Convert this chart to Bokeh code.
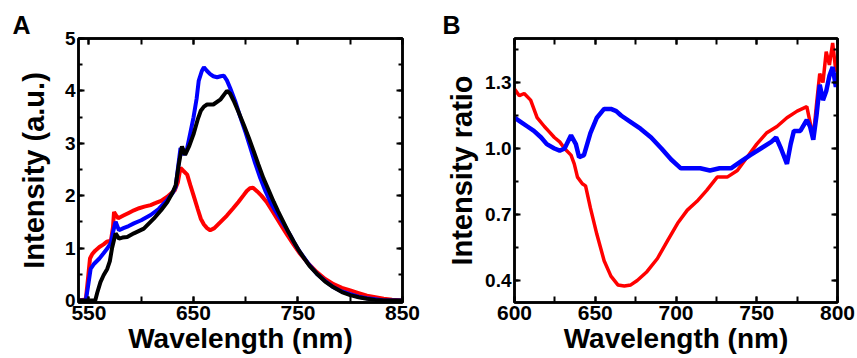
from bokeh.plotting import figure
from bokeh.layouts import row
from bokeh.models import FixedTicker, LinearAxis, Range1d, PrintfTickFormatter
from bokeh.embed import file_html
from bokeh.resources import INLINE

# ---------------- Panel A data: emission spectra ----------------
a_red_x = [540, 547, 549, 551, 553, 556, 560, 564, 567, 571, 573, 574, 576, 578, 583, 588, 593, 598, 603, 609,
           614, 619, 625, 629, 632, 635, 637.6, 640, 644, 647, 650, 654, 657, 660, 663, 666, 670, 676, 682, 688,
           693, 698, 701, 704, 707, 711, 715, 720, 725, 730, 735, 740, 746, 752, 760, 768, 776, 784, 792, 800,
           808, 816, 824, 832, 840, 849]
a_red_y = [0, 0.02, 0.4, 0.8, 0.88, 0.95, 1.02, 1.07, 1.12, 1.14, 1.4, 1.69, 1.62, 1.57, 1.62, 1.67, 1.72, 1.76, 1.79, 1.82,
           1.86, 1.9, 1.98, 2.05, 2.1, 2.25, 2.53, 2.48, 2.40, 2.2, 2.01, 1.75, 1.56, 1.45, 1.38, 1.34, 1.38, 1.5, 1.62, 1.76,
           1.88, 2.01, 2.09, 2.14, 2.15, 2.08, 2.0, 1.88, 1.72, 1.56, 1.40, 1.24, 1.06, 0.89, 0.70, 0.54, 0.41, 0.31, 0.24, 0.19,
           0.14, 0.09, 0.06, 0.03, 0.015, 0.0]

a_blue_x = [540, 547, 549, 551.6, 555, 560, 564, 567.5, 571, 573, 575.5, 578.7, 583, 588, 593, 600, 609, 617, 625, 630,
            633, 635, 637.6, 641, 644, 647, 650, 653, 655, 658, 660, 663, 666, 669, 672.6, 676, 679, 682, 685, 690,
            695, 700, 704.5, 709, 714, 719, 723.6, 728, 733, 738, 742.7, 747, 752, 760, 768, 776, 784, 792, 800, 808,
            816, 824, 832, 849]
a_blue_y = [0, 0, 0.25, 0.6, 0.7, 0.8, 0.9, 0.99, 1.1, 1.3, 1.5, 1.34, 1.38, 1.42, 1.47, 1.53, 1.63, 1.75, 1.92, 2.05,
            2.17, 2.5, 2.91, 2.78, 2.91, 3.2, 3.49, 3.85, 4.19, 4.38, 4.45, 4.38, 4.32, 4.28, 4.26, 4.28, 4.29, 4.2, 4.06, 3.8,
            3.49, 3.2, 2.91, 2.62, 2.33, 2.08, 1.88, 1.72, 1.56, 1.40, 1.24, 1.08, 0.92, 0.70, 0.51, 0.37, 0.25, 0.17, 0.12, 0.07,
            0.04, 0.02, 0.0, 0.0]

a_black_x = [540, 556, 558, 561, 564, 567.5, 570, 572, 575.5, 578.7, 582, 586.6, 593, 602.5, 612, 619, 625, 630, 633, 636,
             639, 642, 646, 650, 654, 657, 660, 663, 669, 676, 682, 685, 688.5, 693, 698, 703, 707.6, 712, 717, 722,
             726.8, 731, 736, 741, 746, 750, 755, 761, 768, 776, 784, 792, 800, 808, 816, 824, 832, 849]
a_black_y = [0, 0, 0.15, 0.35, 0.48, 0.6, 0.75, 0.99, 1.28, 1.18, 1.2, 1.21, 1.28, 1.37, 1.56, 1.72, 1.88, 2.06, 2.2, 2.6,
             2.94, 2.78, 2.95, 3.17, 3.45, 3.62, 3.7, 3.74, 3.74, 3.84, 4.0, 3.95, 3.81, 3.6, 3.36, 3.1, 2.85, 2.6, 2.33, 2.1,
             1.88, 1.7, 1.5, 1.3, 1.12, 0.98, 0.83, 0.66, 0.51, 0.36, 0.25, 0.16, 0.10, 0.06, 0.03, 0.01, 0.0, 0.0]

a_x_labels = [550, 650, 750, 850]
a_x_minor = [550, 600, 650, 700, 750, 800, 850]
a_y_labels = [0, 1, 2, 3, 4, 5]
a_y_minor = [0, 0.5, 1, 1.5, 2, 2.5, 3, 3.5, 4, 4.5, 5]

# ---------------- Panel B data: intensity ratios ----------------
b_red_x = [600, 603, 606, 610, 614, 618.5, 621, 624.7, 628, 631, 635, 637, 639, 642, 644, 647, 651, 655.5, 659.7, 664,
           668, 672, 676, 682, 688.5, 694.7, 701, 707, 713, 719, 725.5, 731.7, 738, 744, 750, 756, 762.5, 768.7, 775, 781,
           783, 785, 787, 789, 791, 793, 795, 797, 799, 800]
b_red_y = [1.27, 1.24, 1.25, 1.22, 1.14, 1.1, 1.08, 1.05, 1.03, 1.0, 0.97, 0.93, 0.87, 0.84, 0.83, 0.73, 0.61, 0.49, 0.42, 0.38,
           0.375, 0.38, 0.40, 0.44, 0.50, 0.58, 0.66, 0.72, 0.76, 0.81, 0.87, 0.87, 0.90, 0.96, 1.02, 1.07, 1.10, 1.14, 1.17, 1.19,
           1.12, 1.05, 1.2, 1.34, 1.30, 1.44, 1.38, 1.48, 1.35, 1.37]

b_blue_x = [600, 604, 608, 612, 616.5, 620, 624.7, 628, 631, 635, 638, 640, 643, 647, 651, 655.5, 659.7, 663, 666, 672,
            678, 684.6, 691, 697, 703, 709, 715, 721, 727, 734, 740, 746, 752.5, 759, 762, 765, 768.7, 771, 773, 777,
            781, 783, 785, 787, 789, 791, 793, 795, 797, 799, 800]
b_blue_y = [1.14, 1.12, 1.1, 1.08, 1.05, 1.02, 1.0, 0.99, 1.0, 1.06, 1.02, 0.96, 0.97, 1.07, 1.14, 1.18, 1.18, 1.17, 1.15, 1.12,
            1.09, 1.05, 1.0, 0.95, 0.91, 0.91, 0.91, 0.90, 0.91, 0.91, 0.94, 0.97, 1.0, 1.03, 1.05, 1.0, 0.93, 1.02, 1.08, 1.08,
            1.13, 1.1, 1.04, 1.15, 1.29, 1.22, 1.26, 1.33, 1.37, 1.28, 1.32]

b_x_labels = [600, 650, 700, 750, 800]
b_x_minor = [600, 625, 650, 675, 700, 725, 750, 775, 800]
b_y_labels = [0.4, 0.7, 1.0, 1.3]
b_y_minor = [0.4, 0.55, 0.7, 0.85, 1.0, 1.15, 1.3, 1.45]

FONT = "Liberation Sans"


def style_axis(ax, ticks, minor, font_size, minor_len, title_size="28px"):
    ax.ticker = FixedTicker(ticks=ticks, minor_ticks=minor)
    ax.axis_line_width = 2.5
    ax.axis_line_color = "black"
    ax.major_tick_in = 6
    ax.major_tick_out = 0
    ax.minor_tick_in = minor_len
    ax.minor_tick_out = 0
    ax.major_tick_line_width = 2
    ax.minor_tick_line_width = 2
    ax.major_tick_line_color = "black"
    ax.minor_tick_line_color = "black"
    ax.major_label_text_font = FONT
    ax.major_label_text_font_style = "bold"
    ax.major_label_text_font_size = font_size
    ax.major_label_text_color = "black"
    ax.major_label_standoff = 3
    ax.axis_label_text_font = FONT
    ax.axis_label_text_font_style = "bold"
    ax.axis_label_text_font_size = title_size
    ax.axis_label_text_color = "black"


def mirror_axis(ticks, minor, minor_len):
    ax = LinearAxis()
    style_axis(ax, ticks, minor, "1px", minor_len)
    ax.major_label_overrides = {t: "" for t in ticks}
    ax.major_label_standoff = 0
    return ax


def make_panel(width, xr, yr, left, right, xt, xm, yt, ym, ylabel, ylab_standoff, letter, yfmt):
    p = figure(width=width, height=358, x_range=Range1d(*xr), y_range=Range1d(*yr),
               output_backend="svg", toolbar_location=None,
               min_border_left=left, min_border_right=right,
               min_border_top=38, min_border_bottom=56)
    p.grid.visible = False
    p.outline_line_color = "black"
    p.outline_line_width = 2.5
    p.background_fill_color = "white"
    p.border_fill_color = "white"

    style_axis(p.xaxis[0], xt, xm, "21px", 6, "28px")
    p.xaxis[0].axis_label = "Wavelength (nm)"
    p.xaxis[0].axis_label_standoff = 0
    style_axis(p.yaxis[0], yt, ym, "19px", 4, "29px")
    p.yaxis[0].axis_label = ylabel
    p.yaxis[0].axis_label_standoff = ylab_standoff
    if yfmt:
        p.yaxis[0].formatter = PrintfTickFormatter(format=yfmt)

    p.add_layout(mirror_axis(xt, xm, 6), "above")
    p.add_layout(mirror_axis(yt, ym, 4), "right")

    p.title.text = letter
    p.title.align = "left"
    p.title.offset = -(left - 12)
    p.title.standoff = 0
    p.title.text_font = FONT
    p.title.text_font_style = "bold"
    p.title.text_font_size = "25px"
    p.title.text_color = "black"
    return p


pa = make_panel(430, (540, 850), (-0.04, 5.0), 78, 28, a_x_labels, a_x_minor, a_y_labels, a_y_minor,
                "Intensity (a.u.)", 12, "A", None)
pa.line(a_red_x, a_red_y, line_color="#ff0000", line_width=4)
pa.line(a_blue_x, a_blue_y, line_color="#0000ff", line_width=4)
pa.line(a_black_x, a_black_y, line_color="black", line_width=4)

pb = make_panel(427, (600, 800), (0.3, 1.5), 84, 20, b_x_labels, b_x_minor, b_y_labels, b_y_minor,
                "Intensity ratio", 4, "B", "%.1f")
pb.line(b_red_x, b_red_y, line_color="#ff0000", line_width=3.5)
pb.line(b_blue_x, b_blue_y, line_color="#0000ff", line_width=4.5)

layout = row(pa, pb)
open("out.html", "w").write(file_html(layout, INLINE))
